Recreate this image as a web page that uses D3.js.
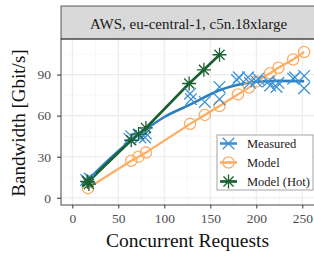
<!DOCTYPE html>
<html>
<head>
<meta charset="utf-8">
<script src="https://cdn.jsdelivr.net/npm/d3@7"></script>
<style>
  body { margin: 0; background: #fff; }
  text { font-family: "Liberation Serif", "DejaVu Serif", serif; }
</style>
</head>
<body>
<svg id="chart" width="314" height="259"></svg>
<script>
// request counts and bandwidth (Gbit/s)
var modelX   = [17, 64, 72, 80, 128, 144, 160, 180, 192, 200, 215, 224, 240, 252];
var modelY   = [7, 27, 30, 33, 54, 60.5, 67, 75.5, 80.5, 85, 91, 95, 101, 106.5];

var hotX     = [16, 18, 17, 64, 72, 80, 127, 143, 160];
var hotY     = [12, 10, 11.5, 42, 46.5, 51, 83.5, 93.5, 104.5];

var measX    = [15, 17, 19, 62, 64, 72, 74, 79, 80, 128, 129, 144, 160, 160,
                179, 181, 191, 193, 200, 202, 213, 215, 222, 224, 240, 242, 252, 252];
var measY    = [13, 12, 14, 43, 45, 46, 44, 44, 47, 76, 72, 70, 81, 72,
                86, 88, 88, 84, 85, 87, 85, 82, 81, 84, 87, 88, 89, 80];

// smoothed trend of the measured points
var fitX     = [17, 40, 64, 80, 100, 128, 160, 180, 200, 225, 252];
var fitY     = [13, 28, 42, 50, 59, 68, 78.5, 82.5, 84.8, 85.4, 85.2];

var xTicks = [0, 50, 100, 150, 200, 250];
var yTicks = [0, 30, 60, 90];
var stripLabel = "AWS, eu-central-1, c5n.18xlarge";

var blue = "#2b7fc0", blueMark = "#3d92d6", orange = "#fdac60", green = "#1a6030";

var svg = d3.select("#chart");
var pL = 61, pR = 314, pT = 39, pB = 205;

var x = d3.scaleLinear().domain([-12.3, 262.7]).range([pL, pR]);
var y = d3.scaleLinear().domain([-5.3, 116]).range([pB, pT]);

// panel grid
var g = svg.append("g");
var minorX = d3.range(25, 275, 50), minorY = d3.range(15, 120, 30);
g.selectAll(".mx").data(minorX).join("line")
  .attr("x1", d => x(d)).attr("x2", d => x(d)).attr("y1", pT).attr("y2", pB)
  .attr("stroke", "#f2f2f2").attr("stroke-width", 0.6);
g.selectAll(".my").data(minorY).join("line")
  .attr("y1", d => y(d)).attr("y2", d => y(d)).attr("x1", pL).attr("x2", pR)
  .attr("stroke", "#f2f2f2").attr("stroke-width", 0.6);
g.selectAll(".gx").data(xTicks).join("line")
  .attr("x1", d => x(d)).attr("x2", d => x(d)).attr("y1", pT).attr("y2", pB)
  .attr("stroke", "#ebebeb").attr("stroke-width", 1.1);
g.selectAll(".gy").data(yTicks).join("line")
  .attr("y1", d => y(d)).attr("y2", d => y(d)).attr("x1", pL).attr("x2", pR)
  .attr("stroke", "#ebebeb").attr("stroke-width", 1.1);

// strip
svg.append("rect").attr("x", pL).attr("y", 6).attr("width", pR - pL + 2).attr("height", pT - 6)
  .attr("fill", "#d9d9d9").attr("stroke", "#333").attr("stroke-width", 0.8);
svg.append("text").attr("x", (pL + pR) / 2 + 1).attr("y", 28.5).attr("text-anchor", "middle")
  .attr("font-size", 15).attr("fill", "#1a1a1a").text(stripLabel);

// lines
var line = d3.line().x(d => x(d[0])).y(d => y(d[1]));
svg.append("path").datum(d3.zip(modelX, modelY)).attr("d", line)
  .attr("fill", "none").attr("stroke", orange).attr("stroke-width", 2.2);
svg.append("path").datum(d3.zip(fitX, fitY))
  .attr("d", d3.line().x(d => x(d[0])).y(d => y(d[1])).curve(d3.curveMonotoneX))
  .attr("fill", "none").attr("stroke", blue).attr("stroke-width", 2.6);
svg.append("path").datum(d3.zip(hotX, hotY).slice(2)).attr("d", line)
  .attr("fill", "none").attr("stroke", green).attr("stroke-width", 2.6);

// markers
function cross(sel, s) {
  sel.append("path").attr("d", "M" + -s + "," + -s + "L" + s + "," + s + "M" + -s + "," + s + "L" + s + "," + -s);
}
function star(sel, s) {
  var a = s * 0.72;
  sel.append("path").attr("d", "M0," + -s + "V" + s + "M" + -s + ",0H" + s +
    "M" + -a + "," + -a + "L" + a + "," + a + "M" + -a + "," + a + "L" + a + "," + -a);
}
svg.append("g").attr("fill", "none").attr("stroke", orange).attr("stroke-width", 1.3)
  .selectAll("circle").data(d3.zip(modelX, modelY)).join("circle")
  .attr("cx", d => x(d[0])).attr("cy", d => y(d[1])).attr("r", 5.6);

svg.append("g").attr("stroke", blueMark).attr("stroke-width", 1.3)
  .selectAll("g").data(d3.zip(measX, measY)).join("g")
  .attr("transform", d => "translate(" + x(d[0]) + "," + y(d[1]) + ")")
  .each(function() { cross(d3.select(this), 5.8); });

svg.append("g").attr("stroke", green).attr("stroke-width", 1.3)
  .selectAll("g").data(d3.zip(hotX, hotY)).join("g")
  .attr("transform", d => "translate(" + x(d[0]) + "," + y(d[1]) + ")")
  .each(function() { star(d3.select(this), 7); });

// panel border
svg.append("rect").attr("x", pL).attr("y", pT).attr("width", pR - pL + 2).attr("height", pB - pT)
  .attr("fill", "none").attr("stroke", "#333").attr("stroke-width", 0.9);

// axes
var ax = svg.append("g").attr("transform", "translate(0," + pB + ")")
  .call(d3.axisBottom(x).tickValues(xTicks).tickSize(3.5).tickPadding(4.5));
var ay = svg.append("g").attr("transform", "translate(" + pL + ",0)")
  .call(d3.axisLeft(y).tickValues(yTicks).tickSize(4).tickPadding(6));
[ax, ay].forEach(function(a) {
  a.select(".domain").remove();
  a.selectAll("line").attr("stroke", "#333");
  a.selectAll("text").attr("fill", "#4d4d4d").attr("font-size", 13.5)
    .style("font-family", "'Liberation Serif', serif");
});

svg.append("text").attr("x", (pL + pR) / 2).attr("y", 247).attr("text-anchor", "middle")
  .attr("font-size", 19.5).attr("fill", "#111").text("Concurrent Requests");
svg.append("text").attr("transform", "translate(25," + ((pT + pB) / 2 + 1) + ") rotate(-90)")
  .attr("text-anchor", "middle").attr("font-size", 19).attr("fill", "#111").text("Bandwidth [Gbit/s]");

// legend
var legend = [
  { label: "Measured", color: blueMark, shape: "cross" },
  { label: "Model", color: orange, shape: "circle" },
  { label: "Model (Hot)", color: green, shape: "star" }
];
var lg = svg.append("g").attr("transform", "translate(217,135)");
lg.append("rect").attr("width", 96).attr("height", 55).attr("fill", "#fff")
  .attr("stroke", "#999").attr("stroke-width", 0.9);
lg.selectAll("g").data(legend).join("g")
  .attr("transform", (d, i) => "translate(0," + (8.5 + i * 19) + ")")
  .each(function(d) {
    var e = d3.select(this);
    e.append("line").attr("x1", 3).attr("x2", 20).attr("stroke", d.color).attr("stroke-width", 2.6);
    var m = e.append("g").attr("transform", "translate(11.5,0)").attr("stroke", d.color)
      .attr("fill", "none").attr("stroke-width", 1.3);
    if (d.shape === "cross") cross(m, 5.8);
    else if (d.shape === "circle") m.append("circle").attr("r", 5.6);
    else star(m, 7);
    e.append("text").attr("x", 30).attr("y", 4.5).attr("font-size", 12.5).attr("fill", "#1a1a1a").text(d.label);
  });
</script>
</body>
</html>
